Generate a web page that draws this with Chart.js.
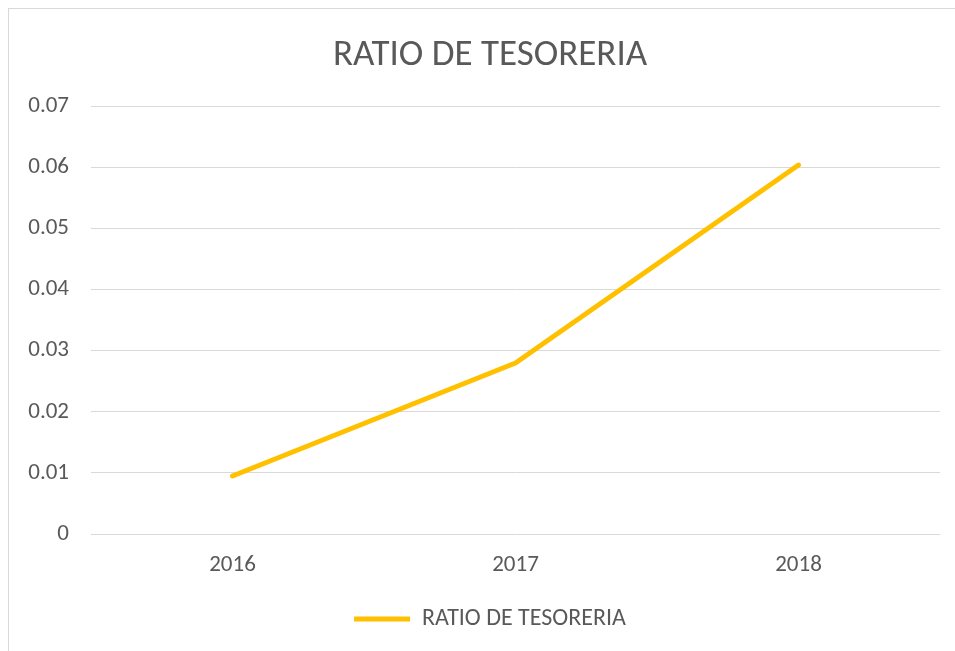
<!DOCTYPE html>
<html>
<head>
<meta charset="utf-8">
<script src="https://cdn.jsdelivr.net/npm/chart.js@4/dist/chart.umd.min.js"></script>
<style>
  html, body { margin: 0; padding: 0; background: #fff; }
  #wrap { position: relative; width: 955px; height: 651px; overflow: hidden; }
  #frame { position: absolute; left: 8px; top: 8px; width: 1000px; height: 700px; border: 1px solid #d9d9d9; box-sizing: border-box; }
  #chart { position: absolute; left: 0; top: 0; }
</style>
</head>
<body>
<div id="wrap">
  <div id="frame"></div>
  <canvas id="chart" width="955" height="651"></canvas>
</div>
<script>
const years = ['2016', '2017', '2018'];
const ratioTesoreria = [0.0095, 0.0280, 0.0604];
const yTicks = [0, 0.01, 0.02, 0.03, 0.04, 0.05, 0.06, 0.07];

const FONT = 'Carlito, Calibri, Lato, sans-serif';
const GREY = '#595959';

var ctx = document.getElementById('chart').getContext('2d');
var chart = new Chart(ctx, {
    type: 'line',
    data: {
        labels: years,
        datasets: [{
            label: 'RATIO DE TESORERIA',
            data: ratioTesoreria,
            borderColor: '#ffc000',
            backgroundColor: '#ffc000',
            borderWidth: 5,
            borderCapStyle: 'round',
            borderJoinStyle: 'round',
            pointRadius: 0,
            pointHoverRadius: 0,
            fill: false,
            tension: 0
        }]
    },
    options: {
        responsive: false,
        animation: false,
        layout: { padding: { left: 40, right: 15, top: 28, bottom: 10 } },
        plugins: {
            title: {
                display: true,
                text: 'RATIO DE TESORERIA',
                color: GREY,
                font: { family: FONT, size: 37, weight: 'normal' },
                padding: { top: 6, bottom: 28 }
            },
            legend: {
                position: 'bottom',
                labels: {
                    color: GREY,
                    font: { family: FONT, size: 24 },
                    usePointStyle: true,
                    pointStyle: 'line',
                    pointStyleWidth: 56,
                    boxWidth: 56,
                    boxHeight: 10,
                    padding: 4
                }
            },
            tooltip: { enabled: false }
        },
        scales: {
            x: {
                offset: true,
                afterFit: (scale) => { scale.height = 69; },
                grid: { display: false, drawTicks: false },
                border: { display: false },
                ticks: {
                    color: GREY,
                    font: { family: FONT, size: 23 },
                    padding: 17
                }
            },
            y: {
                min: 0,
                max: 0.07,
                afterFit: (scale) => {
                    scale.width = 51;
                    // labels reach into the left padding, so don't clip them to the axis box
                    scale._computeLabelArea = () => undefined;
                },
                afterBuildTicks: (scale) => {
                    scale.ticks = yTicks.map(v => ({ value: v }));
                },
                grid: { color: '#d9d9d9', lineWidth: 1, drawTicks: false },
                border: { display: false },
                ticks: {
                    color: GREY,
                    font: { family: FONT, size: 23 },
                    padding: 22,
                    callback: (v) => v === 0 ? '0' : v.toFixed(2)
                }
            }
        }
    }
});
</script>
</body>
</html>
